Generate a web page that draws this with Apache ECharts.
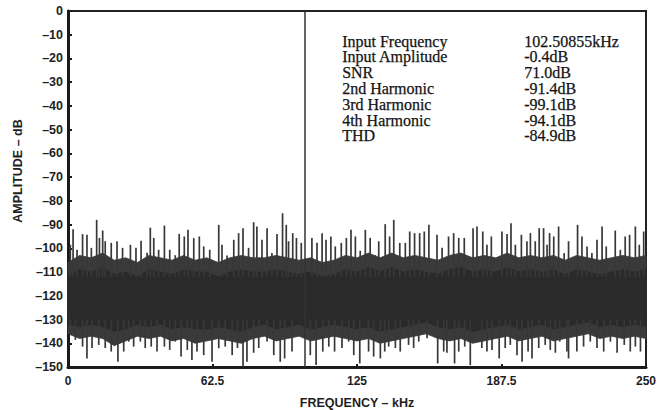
<!DOCTYPE html>
<html>
<head>
<meta charset="utf-8">
<script src="https://cdn.jsdelivr.net/npm/echarts@6/dist/echarts.min.js"></script>
<style>
  html, body { margin: 0; padding: 0; background: #ffffff; }
  #chart { width: 659px; height: 410px; }
</style>
</head>
<body>
<div id="chart"></div>
<script>
// ---- FFT plot data (frequency in kHz, amplitude in dB) ----

// Fundamental tone
var fundamentalKHz = 102.50855;
var fundamentalDb = -0.4;

// Noise floor envelope, sampled every 5 kHz from 0 to 250 kHz
var bandKHz = [0, 5, 10, 15, 20, 25, 30, 35, 40, 45, 50, 55, 60, 65, 70, 75, 80, 85, 90, 95,
  100, 105, 110, 115, 120, 125, 130, 135, 140, 145, 150, 155, 160, 165, 170, 175, 180, 185, 190, 195,
  200, 205, 210, 215, 220, 225, 230, 235, 240, 245, 250];
// Outer (sparser) edge of the noise band
var outerTop = [-106, -103, -104, -102, -105, -104, -106, -103, -104, -105, -103, -105, -104, -106, -104, -103, -104, -104, -103, -104,
  -105, -104, -106, -105, -103, -104, -102, -104, -102, -104, -103, -104, -105, -103, -102, -104, -103, -104, -102, -104,
  -103, -104, -103, -105, -103, -104, -105, -104, -103, -104, -103];
var outerBottom = [-136, -138, -137, -138, -141, -139, -137, -138, -137, -139, -138, -140, -139, -138, -139, -140, -138, -137, -139, -138,
  -137, -139, -138, -137, -138, -139, -138, -140, -139, -138, -137, -136, -138, -139, -138, -140, -139, -138, -137, -139,
  -138, -137, -139, -138, -137, -136, -138, -137, -138, -137, -138];
// Solid core of the noise band
var innerTop = [-111, -109, -110, -108, -111, -110, -112, -109, -110, -111, -109, -110, -110, -112, -110, -109, -110, -110, -109, -110,
  -111, -110, -112, -111, -109, -110, -108, -110, -108, -110, -109, -110, -111, -109, -108, -110, -109, -110, -108, -110,
  -109, -110, -109, -111, -109, -110, -111, -110, -109, -110, -109];
var innerBottom = [-132, -133, -132, -133, -135, -134, -132, -133, -132, -134, -133, -134, -134, -133, -134, -135, -133, -132, -134, -133,
  -132, -134, -133, -132, -133, -134, -133, -135, -134, -133, -132, -131, -133, -134, -133, -135, -134, -133, -132, -134,
  -133, -132, -134, -133, -132, -131, -133, -132, -133, -132, -133];

// Spurs rising above the noise band: [kHz, dB]
var spursUp = [
  [1.0, -98.5], [2.2, -92], [3.9, -100.6], [6.3, -94], [8.2, -94.3], [10.1, -99.8], [12.4, -88], [13.6, -95.6],
  [15.0, -92.5], [16.1, -97], [18.7, -97.7], [21.2, -97], [23.6, -99.8], [27.0, -98.5], [29.4, -99.8], [31.6, -96.8],
  [34.2, -101.9], [35.6, -91.3], [37.1, -95.6], [39.2, -100.6], [41.7, -90.4], [44.0, -100.6], [46.4, -102.9], [48.1, -93.9],
  [50.3, -95], [51.9, -92.2], [54.4, -95.7], [56.8, -95], [58.7, -99.2], [61.3, -100.6], [65.2, -90.1], [66.6, -98.5],
  [68.8, -103], [71.7, -96.4], [73.8, -93.6], [75.7, -91.5], [78.1, -99.8], [80.3, -89], [81.7, -90.8], [83.9, -96.4],
  [86.1, -91.5], [88.2, -102], [90.4, -94], [92.8, -85.2], [94.4, -90.1], [95.4, -97], [97.2, -93.6], [98.8, -95.6],
  [100.9, -97.7], [105.5, -95.6], [107.7, -97.7], [109.9, -93.6], [111.6, -96.4], [113.7, -95], [115.6, -99.2], [118.2, -97.7],
  [120.4, -95.6], [122.4, -92.2], [124.3, -95], [126.4, -101], [128.6, -92.2], [130.7, -95.6], [132.9, -102.9], [134.4, -97],
  [137.2, -89.8], [139.1, -95], [140.9, -88], [143.5, -97.7], [145.9, -97.7], [147.8, -92.9], [149.9, -93.6], [152.1, -93.6],
  [154.1, -92.9], [156.1, -90.1], [159.6, -94.3], [161.8, -99.8], [164.6, -95], [166.8, -93.6], [169.0, -95.6], [171.4, -95.6],
  [175.2, -91.5], [176.9, -90.8], [179.4, -92.9], [181.2, -98.5], [183.1, -95], [187.7, -92.9], [189.9, -94], [191.6, -89.4],
  [193.5, -98.5], [196.1, -94.3], [198.5, -97], [200.0, -93.6], [202.1, -97], [203.8, -91.5], [205.7, -91.5], [207.2, -98.5],
  [208.3, -93.6], [210.1, -95], [212.2, -90.8], [214.6, -102], [216.5, -97], [220.4, -90.1], [222.3, -95], [224.5, -99.2],
  [226.6, -102], [228.8, -96.4], [231.0, -90.8], [232.8, -99.2], [236.7, -92.5], [238.9, -100.6], [241.0, -95], [242.9, -94.3],
  [245.4, -90.8], [247.1, -98.5], [249.0, -92.9]
];

// Spurs dipping below the noise band: [kHz, dB]
var spursDown = [
  [1.0, -136.5], [3.2, -138.6], [6.3, -141.4], [8.2, -146.4], [10.4, -142], [13.3, -140.7], [16.1, -142], [18.7, -143.5],
  [21.6, -147.8], [24.1, -143.5], [26.3, -139.3], [28.4, -141.4], [31.3, -139.3], [33.4, -142], [36.0, -141.4], [38.5, -143.5],
  [41.7, -141.4], [44.0, -142.8], [46.4, -139.3], [48.9, -145.6], [51.6, -142.8], [53.6, -147], [55.8, -143.5], [58.7, -145],
  [62.3, -147.8], [65.2, -142.1], [68.0, -141.4], [71.0, -145], [73.3, -142], [75.7, -149.9], [77.4, -147.8], [80.3, -144],
  [82.5, -142], [86.1, -139.3], [89.0, -145], [91.8, -147.8], [93.7, -146.4], [96.9, -143.5], [104.8, -145], [107.3, -149.2],
  [110.2, -143.5], [112.8, -141.4], [115.3, -143.5], [118.5, -142], [121.4, -139.3], [123.6, -145], [126.2, -148.5], [130.0, -143.5],
  [132.2, -145.6], [135.1, -146.4], [137.0, -143.5], [138.7, -141.4], [141.6, -142], [143.7, -143.5], [147.3, -140.7], [149.5, -142],
  [151.7, -139.3], [155.3, -137.9], [159.9, -148.5], [162.5, -143.5], [163.9, -144], [167.2, -148.5], [169.0, -143.5], [171.6, -141.4],
  [174.0, -149.2], [179.0, -142], [181.2, -143.5], [183.4, -142.8], [186.5, -146.4], [189.1, -142], [191.3, -140.7], [194.2, -145],
  [196.4, -147.8], [199.0, -143.5], [200.7, -146.4], [203.6, -142], [206.4, -140.7], [208.6, -142.8], [210.8, -144], [212.7, -139.3],
  [215.8, -143.5], [216.5, -146.4], [220.1, -143.5], [223.0, -141.4], [225.9, -139.3], [228.8, -142], [231.7, -143.5], [234.6, -139.3],
  [237.5, -144], [240.6, -140.7], [243.2, -143.5], [245.4, -141.4], [247.6, -143.5]
];

// Measurement summary
var statLabels = ['Input Frequency', 'Input Amplitude', 'SNR', '2nd Harmonic', '3rd Harmonic', '4th Harmonic', 'THD'];
var statValues = ['102.50855kHz', '-0.4dB', '71.0dB', '-91.4dB', '-99.1dB', '-94.1dB', '-84.9dB'];

// Axis ticks and titles
var freqTicks = [0, 62.5, 125, 187.5, 250];
var freqTickLabels = ['0', '62.5', '125', '187.5', '250'];
var xTitle = 'FREQUENCY – kHz';
var yTitle = 'AMPLITUDE – dB';

// ---- chart ----
var chart = echarts.init(document.getElementById('chart'), null, { renderer: 'svg' });

var sansBold = { fontFamily: 'Liberation Sans, Arial, sans-serif', fontWeight: 'bold', color: '#1e1e1e' };
var serifFont = '16px "Liberation Serif", "Times New Roman", serif';

function bandPolygon(topArr, bottomArr, color) {
  return function (params, api) {
    var pts = [];
    for (var i = 0; i < bandKHz.length; i++) pts.push(api.coord([bandKHz[i], topArr[i]]));
    for (var j = bandKHz.length - 1; j >= 0; j--) pts.push(api.coord([bandKHz[j], bottomArr[j]]));
    return { type: 'polygon', shape: { points: pts }, style: { fill: color, stroke: color, lineWidth: 0.8 } };
  };
}

function spurLine(baseDb, color, width) {
  return function (params, api) {
    var p0 = api.coord([api.value(0), baseDb]);
    var p1 = api.coord([api.value(0), api.value(1)]);
    return { type: 'line', shape: { x1: p0[0], y1: p0[1], x2: p1[0], y2: p1[1] },
      style: { stroke: color, lineWidth: width } };
  };
}

var graphics = [];
for (var k = 0; k < statLabels.length; k++) {
  graphics.push({ type: 'text', left: 342, top: 33 + k * 15.8,
    style: { text: statLabels[k], font: serifFont, fill: '#141414', stroke: '#141414', lineWidth: 0.25 } });
  graphics.push({ type: 'text', left: 524, top: 33 + k * 15.8,
    style: { text: statValues[k], font: serifFont, fill: '#141414', stroke: '#141414', lineWidth: 0.25 } });
}
// Rotated amplitude axis title
graphics.push({ type: 'text', x: 18, y: 171, rotation: Math.PI / 2,
  style: { text: yTitle, font: 'bold 12.5px "Liberation Sans", Arial, sans-serif', fill: '#1e1e1e',
    textAlign: 'center', textVerticalAlign: 'middle' } });

chart.setOption({
  animation: false,
  backgroundColor: '#ffffff',
  grid: { left: 68, right: 13, top: 11, bottom: 43, show: true, borderColor: '#222', borderWidth: 2,
    outerBoundsMode: 'none', containLabel: false },
  xAxis: {
    type: 'value', min: 0, max: 250, interval: 62.5,
    name: xTitle, nameLocation: 'middle', nameGap: 29,
    nameTextStyle: Object.assign({ fontSize: 12.5 }, sansBold),
    axisLine: { onZero: false, lineStyle: { color: '#1a1a1a', width: 3 } },
    axisTick: { inside: true, length: 3, lineStyle: { color: '#1a1a1a', width: 2 } },
    axisLabel: Object.assign({ fontSize: 12, margin: 8,
      formatter: function (v) { var i = freqTicks.indexOf(v); return i >= 0 ? freqTickLabels[i] : ''; } }, sansBold),
    splitLine: { show: false }
  },
  yAxis: {
    type: 'value', min: -150, max: 0, interval: 10,
    axisLine: { show: true, onZero: false, lineStyle: { color: '#1a1a1a', width: 3 } },
    axisTick: { show: true, inside: true, length: 4, lineStyle: { color: '#1a1a1a', width: 2 } },
    axisLabel: Object.assign({ fontSize: 12.5, margin: 5,
      formatter: function (v) { return v < 0 ? '–' + Math.abs(v) : String(v); } }, sansBold),
    splitLine: { show: false }
  },
  graphic: graphics,
  series: [
    { type: 'custom', name: 'outer band', data: [[0, 0]], renderItem: bandPolygon(outerTop, outerBottom, '#3a3a3a'), silent: true, z: 2 },
    { type: 'custom', name: 'inner band', data: [[0, 0]], renderItem: bandPolygon(innerTop, innerBottom, '#2a2a2a'), silent: true, z: 3 },
    { type: 'custom', name: 'spurs up', data: spursUp, renderItem: spurLine(-112, '#383838', 1.7), silent: true, z: 4 },
    { type: 'custom', name: 'spurs down', data: spursDown, renderItem: spurLine(-130, '#383838', 1.7), silent: true, z: 4 },
    { type: 'custom', name: 'fundamental', data: [[fundamentalKHz, fundamentalDb]], renderItem: spurLine(-150, '#333333', 1.5), silent: true, z: 5 }
  ]
});
</script>
</body>
</html>
